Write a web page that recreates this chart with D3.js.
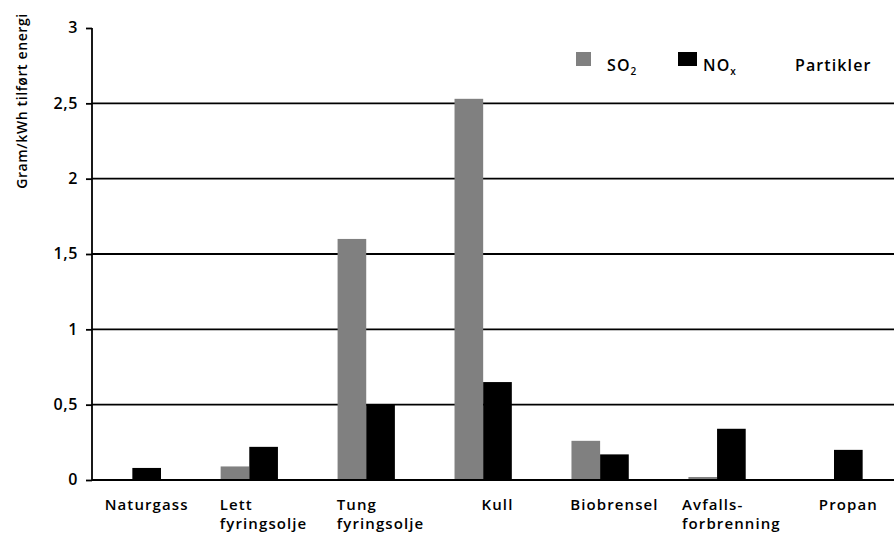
<!DOCTYPE html>
<html>
<head>
<meta charset="utf-8">
<script src="https://cdn.jsdelivr.net/npm/d3@7"></script>
<style>
  html, body { margin: 0; padding: 0; background: #fff; overflow: hidden; }
  svg { display: block; font-family: "Open Sans", sans-serif; }
  .lbl { font-size: 15px; font-weight: 600; letter-spacing: 1.1px; fill: #000; }
</style>
</head>
<body>
<svg id="chart" width="894" height="534"></svg>
<script>
const categories = ['Naturgass', 'Lett fyringsolje', 'Tung fyringsolje', 'Kull', 'Biobrensel', 'Avfalls- forbrenning', 'Propan'],
    labelLines = [['Naturgass'], ['Lett', 'fyringsolje'], ['Tung', 'fyringsolje'], ['Kull'], ['Biobrensel'], ['Avfalls-', 'forbrenning'], ['Propan']],
    seriesNames = ['SO2', 'NOx', 'Partikler'],
    so2 = [0, 0.09, 1.6, 2.53, 0.26, 0.02, 0],
    nox = [0.08, 0.22, 0.5, 0.65, 0.17, 0.34, 0.2],
    partikler = [0, 0, 0, 0, 0, 0, 0],
    yTicks = [0, 0.5, 1, 1.5, 2, 2.5, 3],
    yTitle = 'Gram/kWh tilført energi';

const svg = d3.select('#chart'),
    plotLeft = 92,
    plotTop = 28,
    plotBottom = 480,
    plotRight = 903,
    colors = { SO2: '#808080', NOx: '#000', Partikler: '#fff' },
    values = { SO2: so2, NOx: nox, Partikler: partikler },
    nb = d3.formatLocale({ decimal: ',', thousands: ' ', grouping: [3], currency: ['', ''] });

const x0 = d3.scaleBand()
    .domain(categories)
    .range([plotLeft, plotRight])
    .paddingInner(0.265)
    .paddingOuter(0.1);

const x1 = d3.scaleBand()
    .domain(seriesNames)
    .range([0, x0.bandwidth()]);

const y = d3.scaleLinear()
    .domain([0, 3])
    .range([plotBottom, plotTop]);

// gridlines, no line at the top value
svg.append('g')
    .selectAll('line')
    .data(yTicks.filter(t => t > 0 && t < 3))
    .join('line')
    .attr('x1', plotLeft)
    .attr('x2', 894)
    .attr('y1', d => y(d))
    .attr('y2', d => y(d))
    .attr('stroke', '#000')
    .attr('stroke-width', 1.8);

// bars
const groups = svg.append('g')
    .selectAll('g')
    .data(categories)
    .join('g')
    .attr('transform', d => 'translate(' + x0(d) + ',0)');

groups.selectAll('rect')
    .data((d, i) => seriesNames.map(s => ({ s, v: values[s][i] })))
    .join('rect')
    .attr('x', d => x1(d.s))
    .attr('y', d => y(d.v))
    .attr('width', x1.bandwidth())
    .attr('height', d => y(0) - y(d.v))
    .attr('fill', d => colors[d.s]);

// y axis
const yAxis = svg.append('g')
    .attr('transform', 'translate(' + plotLeft + ',0)')
    .call(d3.axisLeft(y).tickValues(yTicks).tickFormat(nb.format('~g')).tickSize(6).tickPadding(8));

yAxis.attr('font-size', null).attr('font-family', null);
yAxis.select('.domain').attr('stroke-width', 1.8).attr('d', 'M0,' + plotTop + 'V' + plotBottom);
yAxis.selectAll('.tick line').attr('stroke-width', 1.8);
yAxis.selectAll('.tick text')
    .attr('class', 'lbl')
    .style('font-size', '16px')
    .style('letter-spacing', '0.6px')
    .attr('dy', '0.3em');

// baseline
svg.append('line')
    .attr('x1', plotLeft)
    .attr('x2', 894)
    .attr('y1', y(0))
    .attr('y2', y(0))
    .attr('stroke', '#000')
    .attr('stroke-width', 1.8);

// category labels, lines left-aligned, block centred on group
categories.forEach((c, i) => {
    const cx = x0(c) + x0.bandwidth() / 2;
    const t = svg.append('text')
        .attr('class', 'lbl')
        .attr('y', 510);
    labelLines[i].forEach((line, j) => {
        t.append('tspan')
            .attr('dy', j ? 19 : 0)
            .text(line);
    });
    const w = d3.max(t.selectAll('tspan').nodes(), n => n.getComputedTextLength());
    t.selectAll('tspan').attr('x', cx - w / 2);
});

// y title
svg.append('text')
    .attr('class', 'lbl')
    .attr('transform', 'translate(27,101) rotate(-90)')
    .attr('text-anchor', 'middle')
    .style('font-size', '14px')
    .style('letter-spacing', '0.6px')
    .text(yTitle);

// legend
const legend = [
    { s: 'SO2', x: 576, w: 15, main: 'SO', sub: '2', tx: 607 },
    { s: 'NOx', x: 678, w: 19, main: 'NO', sub: 'x', tx: 703 },
    { s: 'Partikler', x: 775, w: 15, main: 'Partikler', sub: '', tx: 795 }
];

const lg = svg.append('g')
    .selectAll('g')
    .data(legend)
    .join('g');

lg.append('rect')
    .attr('x', d => d.x)
    .attr('y', 52)
    .attr('width', d => d.w)
    .attr('height', 14)
    .attr('fill', d => colors[d.s]);

const lt = lg.append('text')
    .attr('class', 'lbl')
    .attr('x', d => d.tx)
    .attr('y', 71)
    .style('font-size', '16px');

lt.append('tspan').text(d => d.main);
lt.append('tspan')
    .attr('dy', 4)
    .style('font-size', '10px')
    .text(d => d.sub);
</script>
</body>
</html>
